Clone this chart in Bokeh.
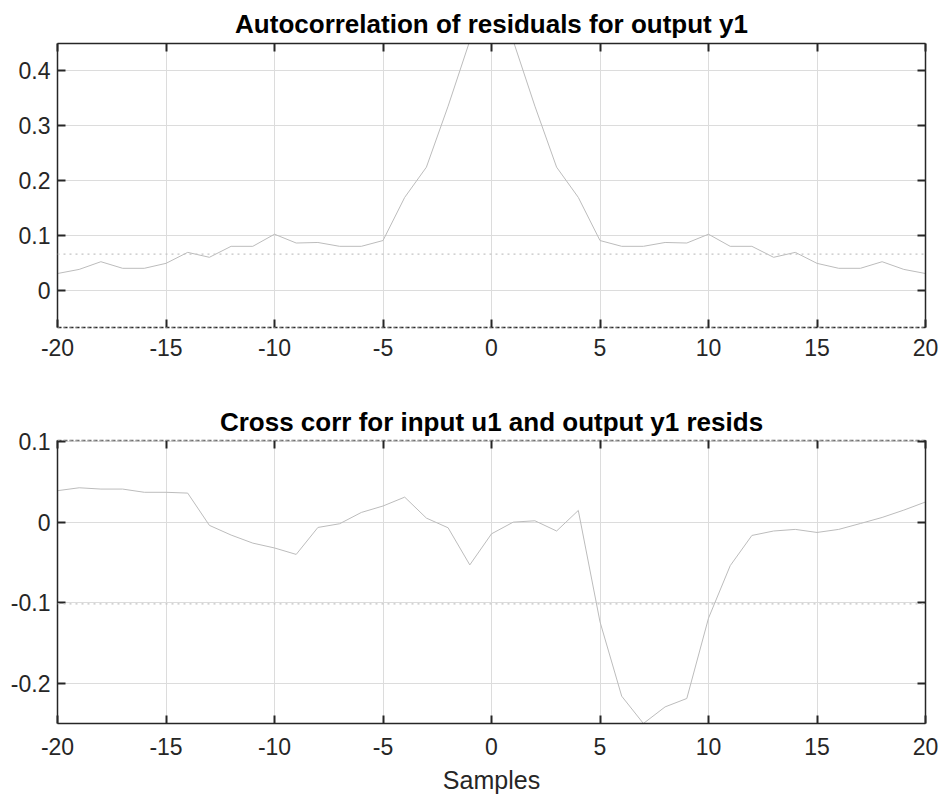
from bokeh.plotting import figure
from bokeh.layouts import column
from bokeh.models import ColumnDataSource, FixedTicker, CustomJSTickFormatter, LinearAxis, Span, Range1d
from bokeh.core.properties import value
from bokeh.embed import file_html
from bokeh.resources import INLINE

lags = list(range(-20, 21))
autocorr = [0.0315, 0.039, 0.053, 0.041, 0.041, 0.050, 0.070, 0.061, 0.081, 0.081,
            0.103, 0.087, 0.088, 0.081, 0.081, 0.0915, 0.170, 0.225, 0.336, 0.455,
            1.0,
            0.455, 0.336, 0.225, 0.170, 0.0915, 0.081, 0.081, 0.088, 0.087, 0.103,
            0.081, 0.081, 0.061, 0.070, 0.050, 0.041, 0.041, 0.053, 0.039, 0.0315]
crosscorr = [0.039, 0.0426, 0.041, 0.041, 0.037, 0.037, 0.036, -0.004, -0.016, -0.026,
             -0.032, -0.040, -0.0066, -0.002, 0.012, 0.020, 0.031, 0.005, -0.007, -0.053,
             -0.0145,
             0.0, 0.0017, -0.011, 0.0145, -0.1236, -0.2157, -0.2496, -0.229, -0.2186, -0.119,
             -0.054, -0.0165, -0.011, -0.009, -0.0128, -0.009, -0.0017, 0.0058, 0.0149, 0.025]
conf_auto = 0.0667
conf_cross = 0.1012
auto_ymax = 0.45
x_ticks = [-20, -15, -10, -5, 0, 5, 10, 15, 20]
auto_yticks = [0, 0.1, 0.2, 0.3, 0.4]
cross_yticks = [-0.2, -0.1, 0, 0.1]
x_label = "Samples"

TEXT = "#262626"
FONT = "Liberation Sans"
yfmt = CustomJSTickFormatter(code="return Math.abs(tick) < 1e-9 ? '0' : tick.toFixed(1);")
xfmt = CustomJSTickFormatter(code="return tick.toFixed(0);")
blank = CustomJSTickFormatter(code="return '';")


def style_axis(ax):
    ax.major_tick_in = 8
    ax.major_tick_out = 0
    ax.minor_tick_in = 0
    ax.minor_tick_out = 0
    ax.major_tick_line_color = TEXT
    ax.major_tick_line_width = 2
    ax.axis_line_color = TEXT
    ax.axis_line_width = 1.5
    ax.major_label_text_font = FONT
    ax.major_label_text_font_size = "23px"
    ax.major_label_text_color = TEXT


def make(title, y, yr, yticks, conf_lines, height, mbt, mbb, standoff, dash_side, xstand):
    p = figure(width=940, height=height, output_backend="svg", toolbar_location=None,
               x_range=Range1d(-20, 20), y_range=Range1d(*yr),
               min_border_left=57, min_border_right=15, min_border_top=mbt, min_border_bottom=mbb)
    p.outline_line_color = None
    p.background_fill_color = "white"
    p.border_fill_color = "white"
    p.title.text = title
    p.title.align = "center"
    p.title.text_font = FONT
    p.title.text_font_size = "26px"
    p.title.text_font_style = "bold"
    p.title.text_color = "#000000"
    p.title.standoff = standoff
    p.title.offset = 0

    p.xgrid.ticker = FixedTicker(ticks=x_ticks)
    p.ygrid.ticker = FixedTicker(ticks=yticks)
    for g in (p.xgrid, p.ygrid):
        g.grid_line_color = "#dcdcdc"
        g.grid_line_width = 1

    bottom_ax = p.below[0]
    left_ax = p.left[0]
    bottom_ax.ticker = FixedTicker(ticks=x_ticks)
    bottom_ax.formatter = xfmt
    left_ax.ticker = FixedTicker(ticks=yticks)
    left_ax.formatter = yfmt
    style_axis(bottom_ax)
    style_axis(left_ax)
    bottom_ax.major_label_standoff = xstand
    left_ax.major_label_standoff = 7

    right = LinearAxis(ticker=FixedTicker(ticks=yticks), formatter=blank)
    top = LinearAxis(ticker=FixedTicker(ticks=x_ticks), formatter=blank)
    for ax in (right, top):
        style_axis(ax)
        ax.major_label_standoff = 0
    p.add_layout(right, "right")
    p.add_layout(top, "above")
    if dash_side == "below":
        bottom_ax.axis_line_dash = "4 2"
    else:
        top.axis_line_dash = "4 2"
        top.axis_line_color = "#6e6e6e"

    for c in conf_lines:
        p.add_layout(Span(location=c, dimension="width", line_color="#c4c4c4",
                          line_width=1.2, line_dash="2 4"))

    src = ColumnDataSource(dict(x=lags, y=y))
    p.line("x", "y", source=src, line_color="#bcbcbc", line_width=1)
    return p


p1 = make("Autocorrelation of residuals for output y1", autocorr,
          (-conf_auto, auto_ymax), auto_yticks, [conf_auto, -conf_auto],
          380, 43, 53, 9, "below", 11)
p2 = make("Cross corr for input u1 and output y1 resids", crosscorr,
          (min(crosscorr), conf_cross), cross_yticks, [conf_cross, -conf_cross],
          384, 60, 41, 8, "above", 14)

# strip holding the x-axis label, aligned with the frames above
p3 = figure(width=940, height=30, output_backend="svg", toolbar_location=None,
            x_range=Range1d(-20, 20), y_range=Range1d(0, 1),
            x_axis_type=None, y_axis_type=None,
            min_border_left=57, min_border_right=15, min_border_top=0, min_border_bottom=0)
p3.outline_line_color = None
p3.grid.visible = False
lab_src = ColumnDataSource(dict(x=[0], y=[0.467], t=[x_label]))
p3.text(x="x", y="y", text="t", source=lab_src, text_align="center", text_baseline="middle",
        text_font=value(FONT), text_font_size="25px", text_color=TEXT)

layout = column(p1, p2, p3, spacing=0)
open("out.html", "w").write(file_html(layout, INLINE))
